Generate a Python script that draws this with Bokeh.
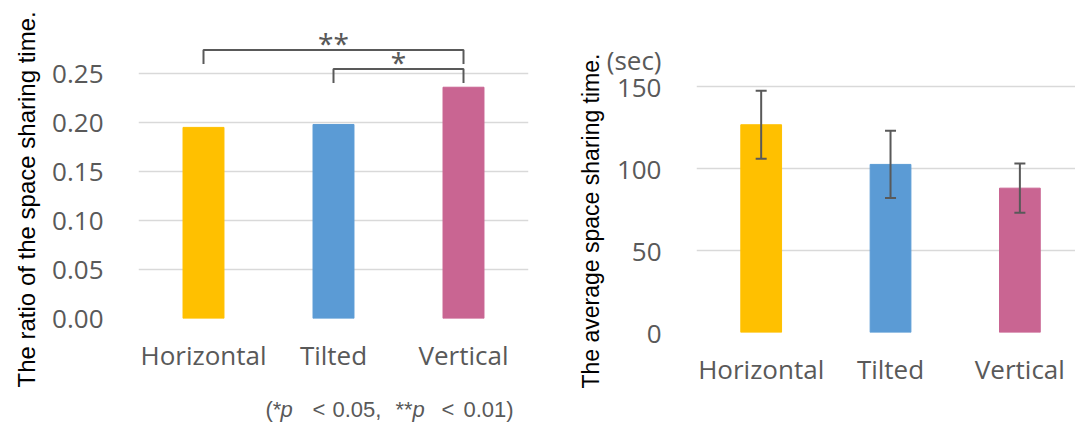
from bokeh.plotting import figure
from bokeh.layouts import row, column
from bokeh.models import (Range1d, FixedTicker, NumeralTickFormatter, Title,
                          ColumnDataSource, Whisker, TeeHead)
from bokeh.core.properties import value
from bokeh.embed import file_html
from bokeh.resources import INLINE

# ---- data -------------------------------------------------------------
orientations = ["Horizontal", "Tilted", "Vertical"]
bar_colors = ["#FFC000", "#5B9BD5", "#C96592"]

ratio_values = [0.195, 0.198, 0.236]          # ratio of the space sharing time
ratio_ticks = [0.0, 0.05, 0.10, 0.15, 0.20, 0.25]

avg_time = [126.8, 102.6, 88.1]                # average space sharing time (sec)
avg_err = [20.7, 20.5, 15.0]
time_ticks = [0, 50, 100, 150]
unit_tick = 166.5                              # where the "(sec)" unit sits

# significance brackets: (from, to, marker, bracket level)
sig_pairs = [("Horizontal", "Vertical", "**", 0.274),
             ("Tilted", "Vertical", "*", 0.2545)]

GRAY = "#595959"
TICK_FONT = "Open Sans"
TITLE_FONT = "Liberation Sans"

xpos = [i + 0.5 for i in range(len(orientations))]
label_map = {x: name for x, name in zip(xpos, orientations)}


def style(p, ticks):
    p.xaxis.ticker = FixedTicker(ticks=xpos)
    p.xaxis.major_label_overrides = label_map
    for ax in (p.xaxis[0], p.yaxis[0]):
        ax.axis_line_color = None
        ax.major_tick_line_color = None
        ax.minor_tick_line_color = None
        ax.major_tick_out = 0
        ax.major_tick_in = 0
        ax.major_label_text_font = TICK_FONT
        ax.major_label_text_font_size = "26px"
        ax.major_label_text_color = GRAY
    p.xaxis.major_label_standoff = 18
    p.yaxis.major_label_standoff = 35
    p.xgrid.grid_line_color = None
    p.ygrid.ticker = FixedTicker(ticks=ticks)
    p.ygrid.grid_line_color = "#D9D9D9"
    p.ygrid.grid_line_width = 1.6
    p.outline_line_color = None
    p.background_fill_color = "white"
    p.border_fill_color = "white"


def side_title(p, text, size, shift, gap):
    # vertical title starting below the frame bottom (negative offset = down)
    p.add_layout(Title(text=text, align="left", offset=shift, standoff=gap,
                       text_font=TITLE_FONT, text_font_size=size,
                       text_font_style="normal", text_color="black"), "left")


# ---- left: ratio of space sharing time -----------------------------------
p1 = figure(frame_width=390, frame_height=294,
            min_border_left=138, min_border_right=12,
            min_border_top=24, min_border_bottom=70,
            x_range=Range1d(0, 3), y_range=Range1d(0, 0.30),
            output_backend="svg", toolbar_location=None)
style(p1, ratio_ticks)
p1.yaxis.ticker = FixedTicker(ticks=ratio_ticks)
p1.yaxis.formatter = NumeralTickFormatter(format="0.00")

src1 = ColumnDataSource(dict(x=xpos, top=ratio_values, color=bar_colors))
p1.vbar(x="x", top="top", width=0.315, bottom=0, color="color", source=src1)

# significance brackets with their markers
drop = 0.0143
for a, b, mark, level in sig_pairs:
    xa = xpos[orientations.index(a)]
    xb = xpos[orientations.index(b)]
    p1.line([xa, xa, xb, xb], [level - drop, level, level, level - drop],
            line_color=GRAY, line_width=2)
    p1.text(x=[(xa + xb) / 2], y=[level + 0.007], text=[mark],
            text_font=value("Noto Sans"), text_font_size="28px",
            text_color=GRAY, text_align="center", text_baseline="alphabetic")

side_title(p1, "The ratio of the space sharing time.", "24px", -69, 20)

# ---- note strip under the left chart (p-value legend, italic p) ----------
note = figure(frame_width=390, frame_height=37,
              min_border_left=138, min_border_right=12,
              min_border_top=0, min_border_bottom=0,
              x_range=Range1d(0, 3), y_range=Range1d(0, 37),
              x_axis_location=None, y_axis_location=None,
              output_backend="svg", toolbar_location=None)
note.grid.visible = False
note.outline_line_color = None
note_parts = [("(*", 265, "normal"), ("p", 280, "italic"), ("<", 312, "normal"),
              ("0.05,", 332, "normal"), ("**", 395, "normal"), ("p", 412, "italic"),
              ("<", 441, "normal"), ("0.01)", 463, "normal")]
for txt, px, st in note_parts:
    note.text(x=[(px - 138) / 130], y=[16], text=[txt],
              text_font=value(TITLE_FONT), text_font_size="22px",
              text_font_style=st, text_color=GRAY,
              text_align="left", text_baseline="alphabetic")

# ---- right: average space sharing time ----------------------------------
p2 = figure(frame_width=379, frame_height=308,
            min_border_left=156, min_border_right=0,
            min_border_top=24, min_border_bottom=70,
            x_range=Range1d(0, 2.93), y_range=Range1d(0, 188),
            output_backend="svg", toolbar_location=None)
style(p2, time_ticks)
p2.yaxis.ticker = FixedTicker(ticks=time_ticks + [unit_tick])
p2.yaxis.major_label_overrides = {unit_tick: "(sec)"}

upper = [m + e for m, e in zip(avg_time, avg_err)]
lower = [m - e for m, e in zip(avg_time, avg_err)]
src2 = ColumnDataSource(dict(x=xpos, top=avg_time, color=bar_colors,
                             upper=upper, lower=lower))
p2.vbar(x="x", top="top", width=0.315, bottom=0, color="color", source=src2)
p2.add_layout(Whisker(source=src2, base="x", upper="upper", lower="lower",
                      level="overlay", line_color=GRAY, line_width=2,
                      upper_head=TeeHead(size=11, line_color=GRAY, line_width=2),
                      lower_head=TeeHead(size=11, line_color=GRAY, line_width=2)))

side_title(p2, "The average space sharing time.", "23px", -56, 0)

layout = row(column(p1, note), p2)
open("out.html", "w").write(file_html(layout, INLINE))
